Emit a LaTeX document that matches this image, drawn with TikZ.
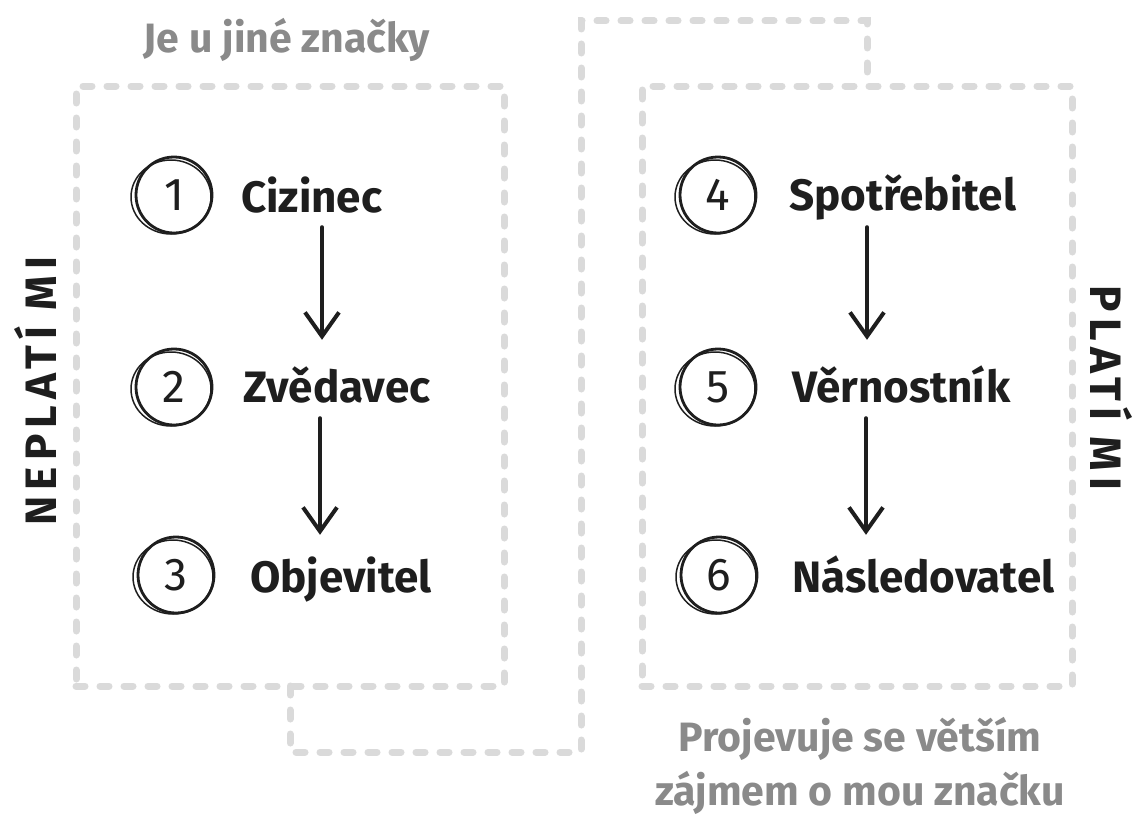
\documentclass[tikz,border=0pt]{standalone}
\usepackage{fontspec}
\setmainfont{Fira Sans}
\usetikzlibrary{arrows.meta,calc}
\definecolor{dashgray}{HTML}{DADADA}
\definecolor{txtgray}{HTML}{8A8A8A}
\definecolor{ink}{HTML}{1E1E1E}
\begin{document}
\begin{tikzpicture}[x=1pt,y=-1pt,
  dashline/.style={draw=dashgray,line width=7pt,line cap=round,dash pattern=on 9pt off 15pt},
  boxnode/.style={dashline,rectangle,inner sep=0pt,outer sep=0pt},
  numc/.style={circle,draw=ink,line width=2.8pt,minimum size=76pt,inner sep=0pt,text=ink,font=\fontsize{46}{48}\selectfont},
  sketch/.style={draw=ink,line width=1.5pt},
  lbl/.style={anchor=base west,inner sep=0pt,text=ink,text height=32pt,text depth=10pt,font=\fontsize{44}{50}\selectfont\bfseries},
  graytxt/.style={text=txtgray,inner sep=0pt,font=\fontsize{41}{54}\selectfont\bfseries,align=center},
  side/.style={text=ink,inner sep=0pt,font=\fontsize{44}{48}\selectfont\bfseries\addfontfeature{LetterSpace=14}},
  arr/.style={draw=ink,line width=4pt,line cap=round,-{Straight Barb[length=24pt,width=34pt,line width=4pt]}}
]
\useasboundingbox (0,0) rectangle (1139,816);
\fill[white] (0,0) rectangle (1139,816);

% boxes
\node[boxnode,minimum width=428pt,minimum height=600pt] (lbox) at (290,386) {};
\node[boxnode,minimum width=430pt,minimum height=600pt] (rbox) at (857,386) {};

% connector between boxes
\coordinate (b2) at (581,752);
\coordinate (t1) at (581,21);
\coordinate (t2) at (867,21);
\draw[dashline] (lbox.south) |- (b2) -- (t1) -- (t2) -- (t2 |- rbox.north);

% gray captions
\node[graytxt] (top) at (287,40) {Je u jiné značky};
\node[graytxt] (bot) at (860,766) {Projevuje se větším\\zájmem o mou značku};

% side labels
\node[side,rotate=90] (neplati) at (35,391) {NEPLATÍ MI};
\node[side,rotate=-90] (plati) at (1112,388) {PLATÍ MI};

% numbered circles
\node[numc] (n1) at (174,195) {1};
\node[numc] (n2) at (174,387) {2};
\node[numc] (n3) at (176,575) {3};
\node[numc] (n4) at (718,195) {4};
\node[numc] (n5) at (718,387) {5};
\node[numc] (n6) at (719,575) {6};
\foreach \n in {n1,n2,n3,n4,n5,n6}
  \draw[sketch] ($(\n.center)+(-3,2)$) ellipse [x radius=40pt, y radius=37pt];

% labels
\node[lbl] (l1) at (241,212) {Cizinec};
\node[lbl] (l2) at (243,402) {Zvědavec};
\node[lbl] (l3) at (250,592) {Objevitel};
\node[lbl] (l4) at (789,210) {Spotřebitel};
\node[lbl] (l5) at (792,402) {Věrnostník};
\node[lbl] (l6) at (792,592) {Následovatel};

% arrows
\draw[arr,shorten <=5pt,shorten >=30pt] ([xshift=148pt]n1.center |- l1.south) -- ([xshift=148pt]n1.center |- l2.north);
\draw[arr,shorten <=6pt,shorten >=25pt] ([xshift=146pt]n2.center |- l2.south) -- ([xshift=146pt]n2.center |- l3.north);
\draw[arr,shorten <=7pt,shorten >=30pt] ([xshift=149pt]n4.center |- l4.south) -- ([xshift=149pt]n4.center |- l5.north);
\draw[arr,shorten <=6pt,shorten >=25pt] ([xshift=148pt]n5.center |- l5.south) -- ([xshift=148pt]n5.center |- l6.north);
\end{tikzpicture}
\end{document}
